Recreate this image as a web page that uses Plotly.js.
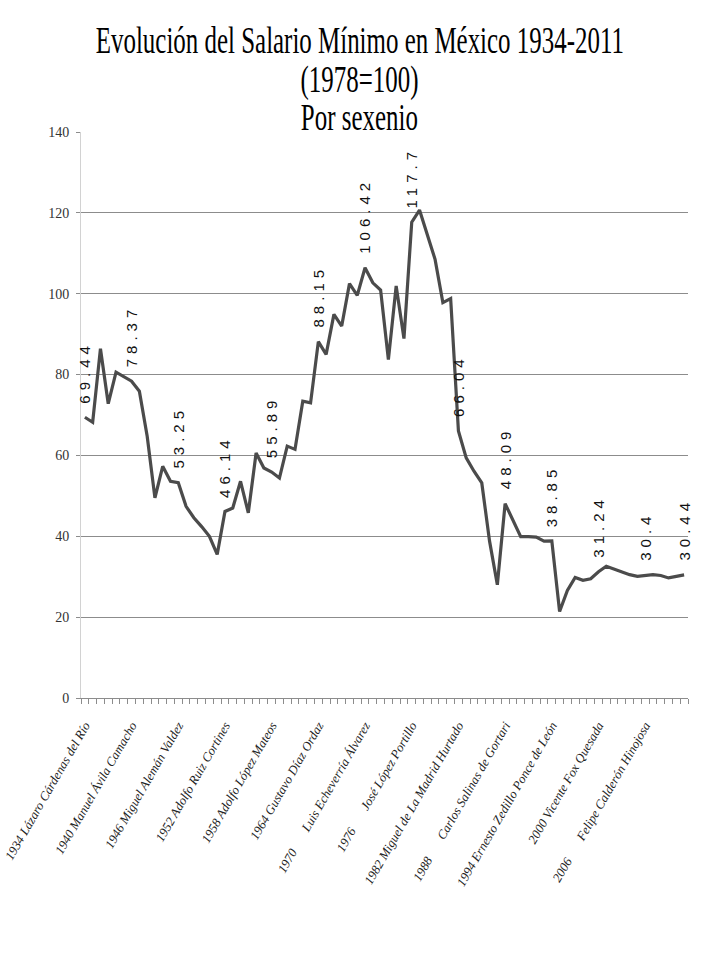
<!DOCTYPE html>
<html>
<head>
<meta charset="utf-8">
<script src="https://cdn.plot.ly/plotly-3.0.1.min.js"></script>
<style>
body { margin: 0; background: #fff; }
.annotation-text { letter-spacing: 5px; }
.annotation[data-index="0"] .annotation-text,
.annotation[data-index="1"] .annotation-text,
.annotation[data-index="2"] .annotation-text {
  letter-spacing: normal;
  transform-box: fill-box; transform-origin: 50% 50%; transform: scaleX(0.674);
}
</style>
</head>
<body>
<div id="chart" style="width:722px;height:962px"></div>
<script>
const years = [1934,1935,1936,1937,1938,1939,1940,1941,1942,1943,1944,1945,1946,1947,1948,1949,
  1950,1951,1952,1953,1954,1955,1956,1957,1958,1959,1960,1961,1962,1963,1964,1965,1966,1967,1968,1969,
  1970,1971,1972,1973,1974,1975,1976,1977,1978,1979,1980,1981,1982,1983,1984,1985,1986,1987,1988,1989,
  1990,1991,1992,1993,1994,1995,1996,1997,1998,1999,2000,2001,2002,2003,2004,2005,2006,2007,2008,2009,
  2010,2011];

const salario = [69.44,68.2,86.4,72.8,80.6,79.4,78.37,75.9,64.8,49.5,57.3,53.6,53.25,47.4,44.6,42.4,
  40.0,35.5,46.14,47.0,53.6,45.8,60.6,56.9,55.89,54.4,62.3,61.5,73.4,73.0,88.15,85.0,94.9,92.0,102.5,99.6,
  106.42,102.7,100.9,83.7,101.9,88.9,117.7,120.7,114.7,108.5,97.8,98.8,66.04,59.4,56.1,53.2,38.8,28.0,48.09,44.1,
  39.9,39.9,39.8,38.8,38.85,21.4,26.6,29.8,29.1,29.5,31.24,32.6,31.9,31.1,30.5,30.1,30.4,30.5,30.3,29.7,
  30.1,30.44];

const labelYears = [1934,1940,1946,1952,1958,1964,1970,1976,1982,1988,1994,2000,2006,2011];

const tickYears = [1934,1940,1946,1952,1958,1964,1970,1976,1982,1988,1994,2000,2006];
const gap = '\u00a0\u00a0\u00a0\u00a0\u00a0\u00a0\u00a0';
const tickLabels = [
  '1934 Lázaro Cárdenas del Río',
  '1940 Manuel Ávila Camacho',
  '1946 Miguel Alemán Valdez',
  '1952 Adolfo Ruiz Cortines',
  '1958 Adolfo López Mateos',
  '1964 Gustavo Díaz Ordaz',
  '1970' + gap + 'Luis Echeverría Álvarez',
  '1976' + gap + 'José López Portillo',
  '1982 Miguel de La Madrid Hurtado',
  '1988' + gap + 'Carlos Salinas de Gortari',
  '1994 Ernesto Zedillo Ponce de León',
  '2000 Vicente Fox Quesada',
  '2006' + gap + 'Felipe Calderón Hinojosa'
];

const titleLines = ['Evolución del Salario Mínimo en México 1934-2011', '(1978=100)', 'Por sexenio'];
const titleY = [1.1617, 1.0910, 1.0256];

const serif = 'Liberation Serif, Times New Roman, serif';

const annotations = titleLines.map(function (t, i) {
  return {
    x: 0.4596, y: titleY[i], xref: 'paper', yref: 'paper',
    text: t, showarrow: false, xanchor: 'center', yanchor: 'middle',
    font: { family: serif, size: 37, color: '#000' }
  };
}).concat(labelYears.map(function (yr) {
  const v = salario[years.indexOf(yr)];
  return {
    x: yr, y: v, xref: 'x', yref: 'y',
    text: String(v), showarrow: false, textangle: -90,
    xanchor: 'center', yanchor: 'bottom', yshift: 12,
    font: { family: 'Liberation Sans, Arial, sans-serif', size: 15, color: '#111' }
  };
}));

const trace = {
  x: years, y: salario, type: 'scatter', mode: 'lines',
  line: { color: '#4b4b4b', width: 3.2 },
  hoverinfo: 'skip'
};

const layout = {
  width: 722, height: 962,
  paper_bgcolor: '#fff', plot_bgcolor: '#fff',
  margin: { l: 81, r: 34, t: 132, b: 264 },
  showlegend: false,
  xaxis: {
    type: 'linear', range: [1933.5, 2011.5],
    tickmode: 'array', tickvals: tickYears, ticktext: tickLabels,
    tickangle: -60, ticklabeloverflow: 'allow',
    tickfont: { family: serif, size: 12.8, style: 'italic', color: '#222' },
    ticks: 'outside', ticklen: 14, tickcolor: 'rgba(0,0,0,0)',
    minor: { tickmode: 'linear', tick0: 1933.5, dtick: 1, ticks: 'outside', ticklen: 5, tickcolor: '#8c8c8c', tickwidth: 1, showgrid: false },
    showgrid: false, zeroline: false,
    showline: true, linecolor: '#8c8c8c', linewidth: 1
  },
  yaxis: {
    range: [0, 140], dtick: 20, tick0: 0,
    showgrid: true, gridcolor: '#8c8c8c', gridwidth: 1,
    zeroline: false,
    showline: true, linecolor: '#d2d2d2', linewidth: 1,
    ticks: 'outside', ticklen: 4, tickcolor: '#8c8c8c', ticklabelstandoff: 4,
    tickfont: { family: serif, size: 14, color: '#333' }
  },
  annotations: annotations
};

Plotly.newPlot('chart', [trace], layout, { displayModeBar: false, staticPlot: true });
</script>
</body>
</html>
